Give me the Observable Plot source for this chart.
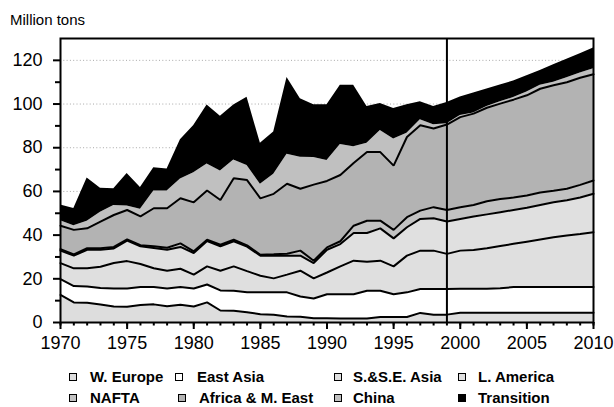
<!DOCTYPE html>
<html>
<head>
<meta charset="utf-8">
<script src="https://cdn.jsdelivr.net/npm/d3@7"></script>
<script src="https://cdn.jsdelivr.net/npm/@observablehq/plot@0.6"></script>
<style>
  body { margin: 0; background: #fff; font-family: Arial, "Liberation Sans", sans-serif; }
  #wrap { position: relative; width: 614px; height: 407px; overflow: hidden; background: #fff; }
  #unit { position: absolute; left: 10px; top: 12px; font-size: 15px; line-height: 15px; color: #000; }
  #chart { position: absolute; left: 0; top: 0; }
  .sw { position: absolute; width: 6px; height: 6px; border: 1.5px solid #000; }
  .lt { position: absolute; font-size: 15px; font-weight: bold; line-height: 16px; white-space: nowrap; color: #000; }
</style>
</head>
<body>
<div id="wrap">
  <div id="chart"></div>
  <div id="unit">Million tons</div>
  <div id="legend"></div>
</div>
<script>
// ---- data ----
const years = [1970,1971,1972,1973,1974,1975,1976,1977,1978,1979,
               1980,1981,1982,1983,1984,1985,1986,1987,1988,1989,
               1990,1991,1992,1993,1994,1995,1996,1997,1998,1999,
               2000,2001,2002,2003,2004,2005,2006,2007,2008,2009,2010];

const seriesNames = ["W. Europe","East Asia","S.&S.E. Asia","L. America","NAFTA","Africa & M. East","China","Transition"];
const seriesColors = ["#dddddd","#ffffff","#dfdfdf","#e0e0e0","#c2c2c2","#b3b3b3","#c0c0c0","#000000"];
const linedSeries = ["W. Europe","East Asia","S.&S.E. Asia","L. America","NAFTA","Africa & M. East"];

const wEurope    = [12.6,9.2,9.0,8.2,7.3,7.2,8.0,8.3,7.4,8.1, 7.3,9.2,5.5,5.4,4.7,3.8,3.5,2.7,2.6,1.9, 1.9,1.8,1.8,1.8,2.5,2.5,2.5,4.4,3.6,3.6, 4.5,4.5,4.5,4.5,4.5,4.5,4.5,4.5,4.5,4.5,4.5];
const eastAsia   = [7.3,7.5,7.5,7.6,8.3,8.4,8.2,7.9,8.2,8.1, 8.3,8.2,9.2,9.1,9.2,10.0,10.3,11.1,9.3,9.1, 11.0,11.1,11.1,12.7,12.0,10.4,11.3,10.9,11.7,11.7, 11.0,11.0,11.0,11.2,11.7,11.8,11.8,11.8,11.8,11.8,11.8];
const ssEAsia    = [7.3,8.1,8.3,9.7,11.6,12.5,10.6,8.6,8.1,8.4, 6.3,8.3,9.0,11.2,9.6,7.6,6.4,8.1,11.8,9.2, 10.0,12.8,15.4,13.3,13.8,12.8,16.8,17.6,17.6,16.1, 17.4,17.7,18.5,19.3,19.8,20.7,21.7,22.7,23.5,24.2,25.0];
const lAmerica   = [5.7,5.8,8.5,7.8,6.7,9.4,8.1,9.3,9.6,10.0, 9.9,11.6,11.2,11.5,11.2,9.2,10.4,8.7,6.9,7.0, 10.4,10.2,12.7,13.2,14.8,12.8,13.0,14.5,14.8,14.8, 14.5,15.3,15.5,15.5,15.5,15.5,15.8,16.0,16.2,16.7,17.6];
const nafta      = [0.7,0.6,0.7,0.7,0.7,0.5,0.5,0.8,0.9,1.6, 0.8,0.6,0.7,0.7,0.6,0.4,0.6,0.9,2.3,1.1, 1.1,1.3,3.3,5.6,3.5,3.9,4.6,3.8,5.1,5.3, 5.4,5.3,6.0,6.0,5.7,5.6,5.7,5.3,5.2,5.8,6.1];
const africaME   = [10.7,11.2,9.1,12.2,14.6,13.5,13.2,17.4,18.1,20.7, 22.4,22.5,20.5,28.1,29.9,25.8,27.7,32.0,28.3,34.8, 30.4,30.3,28.7,31.4,31.4,29.4,36.7,39.1,36.0,39.1, 41.2,41.8,42.8,43.7,44.8,45.9,47.5,48.3,48.8,49.0,48.6];
const china      = [2.3,1.9,3.2,4.3,4.3,1.8,3.2,7.9,7.9,8.8, 13.5,12.2,13.2,8.4,6.7,6.5,9.0,13.5,14.5,12.4, 9.4,14.0,7.5,4.0,9.9,12.2,1.7,2.5,1.7,0.4, 0.8,0.3,0.6,0.8,1.0,1.5,1.6,1.4,2.0,2.2,2.6];
const transition = [7.2,7.9,19.9,11.0,7.7,14.9,10.0,10.6,10.1,17.9, 21.7,27.0,25.1,25.2,31.2,18.7,19.3,35.2,26.7,24.2, 25.5,27.1,28.1,16.9,12.3,14.0,13.1,8.2,8.4,9.7, 8.4,9.1,8.0,7.7,7.5,7.5,6.8,8.0,8.5,8.8,9.5];

const yTickLabels = [0,20,40,60,80,100,120];
const yMinorTicks = [10,30,50,70,90,110];
const gridValues  = [20,40,60,80,100,120];
const xTickLabels = [1970,1975,1980,1985,1990,1995,2000,2005,2010];
const forecastStart = [1999];

// ---- build long table ----
const seriesValues = [wEurope, eastAsia, ssEAsia, lAmerica, nafta, africaME, china, transition];
const table = [];
seriesNames.forEach((name, i) => {
  years.forEach((yr, j) => table.push({series: name, year: yr, value: seriesValues[i][j]}));
});

const font = "Arial, 'Liberation Sans', sans-serif";

const chart = Plot.plot({
  width: 614,
  height: 360,
  marginLeft: 60,
  marginRight: 21,
  marginTop: 38,
  marginBottom: 38,
  style: {fontFamily: font, fontSize: "18px", color: "#000", background: "transparent", overflow: "visible"},
  x: {domain: [1970, 2010], label: null},
  y: {domain: [0, 130], label: null},
  color: {domain: seriesNames, range: seriesColors},
  marks: [
    Plot.ruleY(gridValues, {stroke: "#a8a8a8", strokeDasharray: "1,2.3", strokeWidth: 1}),
    Plot.areaY(table, {x: "year", y: "value", z: "series", fill: "series", order: seriesNames}),
    Plot.lineY(table, Plot.stackY2({
      x: "year", y: "value", z: "series", order: seriesNames,
      stroke: d => linedSeries.includes(d.series) ? "#000" : "none",
      strokeWidth: 2, strokeLinejoin: "miter"
    })),
    Plot.ruleX(forecastStart, {stroke: "#000", strokeWidth: 2}),
    Plot.frame({stroke: "#000", strokeWidth: 2}),
    Plot.axisY(yTickLabels, {tickSize: 7, tickPadding: 11, strokeWidth: 2, fontSize: 18, tickFormat: d => String(d), label: null}),
    Plot.axisY(yMinorTicks, {tickSize: 5, strokeWidth: 2, tickFormat: () => "", label: null}),
    Plot.axisX(years, {tickSize: 3.5, strokeWidth: 2, tickFormat: () => "", label: null}),
    Plot.axisX(xTickLabels, {tickSize: 7, tickPadding: 7, strokeWidth: 2, fontSize: 18, tickFormat: d => String(d), label: null})
  ]
});
document.getElementById("chart").appendChild(chart);

// ---- legend (HTML below the plot area) ----
const legendX = {  // swatch left, text left
  "W. Europe": [69, 90], "East Asia": [175, 197], "S.&S.E. Asia": [334, 353], "L. America": [458, 478],
  "NAFTA": [69, 90], "Africa & M. East": [178, 199], "China": [334, 353], "Transition": [458, 478]
};
const legendRowY = [377, 398];
const legend = document.getElementById("legend");
seriesNames.forEach((name, i) => {
  const row = i < 4 ? 0 : 1;
  const cy = legendRowY[row];
  const [sx, tx] = legendX[name];
  const sw = document.createElement("div");
  sw.className = "sw";
  sw.style.left = sx + "px";
  sw.style.top = (cy - 4.5) + "px";
  sw.style.background = seriesColors[i];
  legend.appendChild(sw);
  const t = document.createElement("div");
  t.className = "lt";
  t.style.left = tx + "px";
  t.style.top = (cy - 8) + "px";
  t.textContent = name;
  legend.appendChild(t);
});
</script>
</body>
</html>
